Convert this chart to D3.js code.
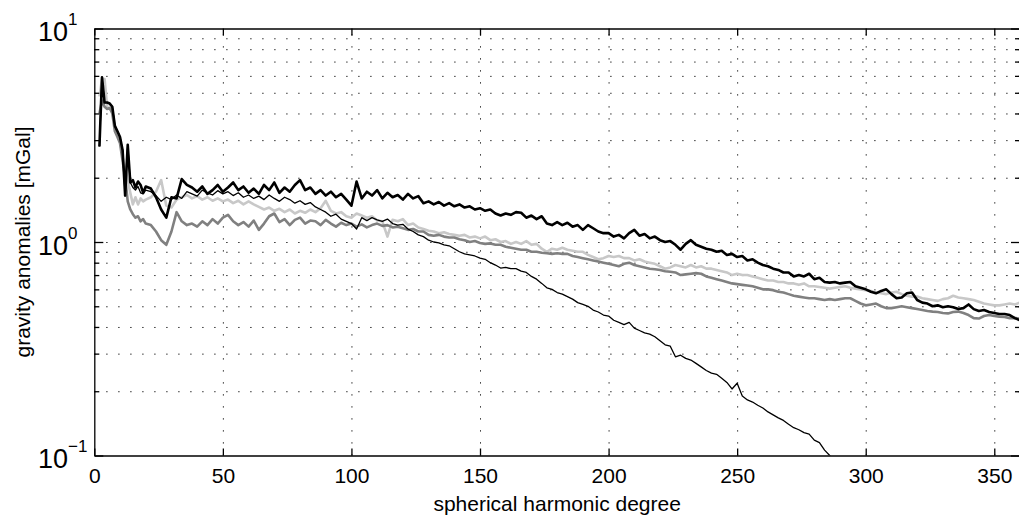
<!DOCTYPE html>
<html lang="en">
<head>
<meta charset="utf-8" />
<title>Gravity anomalies per degree</title>
<script src="https://d3js.org/d3.v7.min.js"></script>
<style>
  body { margin: 0; background: #fff; }
  svg { display: block; font-family: "Liberation Sans", Arial, Helvetica, sans-serif; }
  .grid line { stroke: #000; stroke-width: 1; stroke-dasharray: 1.2, 10.8; }
  .grid path { display: none; }
  .axis path, .axis line { stroke: #000; stroke-width: 1.3; }
  .axis text { font-size: 21px; fill: #000; }
  .series { fill: none; stroke-linejoin: round; }
</style>
</head>
<body>
<script>
// spherical harmonic degree (1-step at low degree, then 2-step)
const degree = [2, 3, 4, 5, 6, 7, 8, 9, 10, 11, 12, 13, 14, 15, 16, 17, 18, 19, 20,
  22, 24, 26, 28, 30, 32, 34, 36, 38, 40, 42, 44, 46, 48, 50, 52, 54, 56, 58, 60,
  62, 64, 66, 68, 70, 72, 74, 76, 78, 80, 82, 84, 86, 88, 90, 92, 94, 96, 98, 100,
  102, 104, 106, 108, 110, 112, 114, 116, 118, 120, 122, 124, 126, 128, 130, 132, 134, 136, 138, 140,
  142, 144, 146, 148, 150, 152, 154, 156, 158, 160, 162, 164, 166, 168, 170, 172, 174, 176, 178, 180,
  182, 184, 186, 188, 190, 192, 194, 196, 198, 200, 202, 204, 206, 208, 210, 212, 214, 216, 218, 220,
  222, 224, 226, 228, 230, 232, 234, 236, 238, 240, 242, 244, 246, 248, 250, 252, 254, 256, 258, 260,
  262, 264, 266, 268, 270, 272, 274, 276, 278, 280, 282, 284, 286, 288, 290, 292, 294, 296, 298, 300,
  302, 304, 306, 308, 310, 312, 314, 316, 318, 320, 322, 324, 326, 328, 330, 332, 334, 336, 338, 340,
  342, 344, 346, 348, 350, 352, 354, 356, 358, 360];

// gravity anomalies [mGal], one value per degree above
const lightGray = [4.8, 5.8, 5.8, 4.3, 4.2, 4.1, 3.5, 3.2, 3.0, 2.5, 2.2, 1.95, 1.7, 1.5, 1.62, 1.5, 1.6, 1.55, 1.58,
  1.62, 1.72, 1.95, 1.48, 1.45, 1.58, 1.62, 1.66, 1.6, 1.64, 1.58, 1.62, 1.56, 1.6, 1.55, 1.58, 1.52, 1.56, 1.5, 1.55,
  1.5, 1.46, 1.42, 1.45, 1.4, 1.43, 1.38, 1.42, 1.36, 1.4, 1.37, 1.42, 1.38, 1.44, 1.56, 1.4, 1.36, 1.38, 1.32, 1.3,
  1.36, 1.33, 1.3, 1.32, 1.26, 1.25, 1.06, 1.27, 1.25, 1.28, 1.2, 1.22, 1.17, 1.15, 1.13, 1.12, 1.1, 1.11, 1.09, 1.08,
  1.07, 1.08, 1.05, 1.06, 1.04, 1.06, 1.02, 1.03, 1.0, 1.01, 0.98, 1.0, 0.98, 1.01, 0.97, 0.98, 0.93, 0.9, 0.93, 0.92,
  0.94, 0.92, 0.91, 0.9, 0.9, 0.87, 0.85, 0.83, 0.84, 0.86, 0.85, 0.86, 0.84, 0.84, 0.82, 0.83, 0.81, 0.8, 0.79, 0.77,
  0.75, 0.76, 0.78, 0.77, 0.76, 0.78, 0.76, 0.77, 0.75, 0.75, 0.74, 0.73, 0.72, 0.7, 0.71, 0.7, 0.7, 0.69, 0.68, 0.67,
  0.66, 0.66, 0.65, 0.65, 0.64, 0.64, 0.63, 0.64, 0.62, 0.62, 0.615, 0.61, 0.605, 0.61, 0.615, 0.62, 0.61, 0.605, 0.6, 0.595,
  0.59, 0.58, 0.575, 0.57, 0.58, 0.585, 0.57, 0.56, 0.555, 0.555, 0.545, 0.54, 0.535, 0.53, 0.54, 0.545, 0.56, 0.55, 0.545, 0.54,
  0.535, 0.525, 0.515, 0.51, 0.505, 0.505, 0.51, 0.515, 0.51, 0.52];

const midGray = [4.0, 4.6, 4.3, 4.2, 4.25, 4.0, 3.3, 3.1, 2.9, 2.4, 2.0, 1.55, 1.42, 1.35, 1.3, 1.32, 1.25, 1.28, 1.22,
  1.2, 1.12, 1.02, 0.97, 1.12, 1.38, 1.25, 1.2, 1.22, 1.18, 1.25, 1.2, 1.28, 1.22, 1.3, 1.34, 1.25, 1.2, 1.24, 1.18,
  1.26, 1.14, 1.22, 1.32, 1.36, 1.24, 1.28, 1.2, 1.27, 1.3, 1.22, 1.26, 1.25, 1.2, 1.27, 1.22, 1.18, 1.23, 1.2, 1.22,
  1.18, 1.21, 1.17, 1.2, 1.22, 1.19, 1.2, 1.17, 1.18, 1.16, 1.14, 1.15, 1.12, 1.12, 1.08, 1.07, 1.08, 1.06, 1.05, 1.05,
  1.03, 1.02, 1.0, 1.01, 0.99, 0.98, 0.985, 0.97, 0.97, 0.95, 0.94, 0.93, 0.92, 0.92, 0.9, 0.9, 0.89, 0.885, 0.88, 0.885,
  0.88, 0.88, 0.86, 0.85, 0.84, 0.83, 0.82, 0.81, 0.8, 0.79, 0.78, 0.77, 0.79, 0.8, 0.78, 0.77, 0.76, 0.75, 0.745, 0.74,
  0.73, 0.725, 0.72, 0.7, 0.705, 0.71, 0.715, 0.71, 0.69, 0.68, 0.67, 0.66, 0.65, 0.64, 0.635, 0.63, 0.625, 0.62, 0.61, 0.6,
  0.6, 0.595, 0.585, 0.58, 0.57, 0.56, 0.555, 0.55, 0.545, 0.545, 0.54, 0.535, 0.54, 0.535, 0.54, 0.545, 0.545, 0.53, 0.515, 0.505,
  0.51, 0.515, 0.5, 0.49, 0.49, 0.495, 0.5, 0.495, 0.49, 0.485, 0.48, 0.475, 0.472, 0.47, 0.465, 0.463, 0.47, 0.472, 0.465, 0.455,
  0.44, 0.438, 0.45, 0.455, 0.45, 0.447, 0.445, 0.44, 0.44, 0.438];

const thickBlack = [2.8, 5.9, 4.5, 4.5, 4.45, 4.3, 3.5, 3.3, 3.1, 2.7, 1.65, 2.85, 1.9, 1.95, 1.8, 1.92, 1.85, 1.7, 1.82,
  1.78, 1.62, 1.42, 1.3, 1.62, 1.6, 1.97, 1.85, 1.8, 1.72, 1.82, 1.68, 1.75, 1.85, 1.72, 1.8, 1.9, 1.75, 1.82, 1.7,
  1.78, 1.68, 1.85, 1.75, 1.9, 1.7, 1.8, 1.72, 1.85, 1.95, 1.75, 1.8, 1.68, 1.75, 1.65, 1.72, 1.62, 1.68, 1.58, 1.48,
  1.92, 1.6, 1.72, 1.65, 1.75, 1.6, 1.7, 1.62, 1.66, 1.58, 1.68, 1.6, 1.64, 1.52, 1.55, 1.5, 1.54, 1.48, 1.52, 1.47,
  1.5, 1.45, 1.47, 1.42, 1.44, 1.4, 1.42, 1.36, 1.33, 1.36, 1.34, 1.38, 1.37, 1.3, 1.33, 1.28, 1.32, 1.22, 1.2, 1.24,
  1.2, 1.23, 1.18, 1.2, 1.14, 1.2, 1.16, 1.12, 1.1, 1.1, 1.06, 1.08, 1.04, 1.1, 1.14, 1.07, 1.09, 1.04, 1.06, 1.02,
  1.0, 1.01, 0.97, 0.92, 0.98, 1.02, 0.97, 0.95, 0.93, 0.92, 0.9, 0.91, 0.87, 0.88, 0.85, 0.86, 0.82, 0.83, 0.8, 0.78,
  0.77, 0.75, 0.74, 0.72, 0.72, 0.69, 0.7, 0.69, 0.71, 0.67, 0.68, 0.65, 0.645, 0.65, 0.64, 0.645, 0.65, 0.62, 0.61, 0.6,
  0.585, 0.575, 0.59, 0.6, 0.57, 0.545, 0.55, 0.575, 0.58, 0.535, 0.52, 0.515, 0.5, 0.505, 0.495, 0.5, 0.495, 0.485, 0.49, 0.51,
  0.485, 0.475, 0.48, 0.47, 0.465, 0.46, 0.46, 0.455, 0.44, 0.43];

// thin black drops below the axis after degree 290
const thinBlack = [2.8, 5.9, 4.5, 4.5, 4.45, 4.3, 3.5, 3.3, 3.1, 2.7, 1.65, 2.85, 1.9, 1.8, 1.75, 1.82, 1.7, 1.68, 1.75,
  1.72, 1.65, 1.55, 1.62, 1.58, 1.66, 1.6, 1.72, 1.68, 1.64, 1.75, 1.7, 1.66, 1.74, 1.68, 1.72, 1.65, 1.7, 1.62, 1.66,
  1.6, 1.64, 1.58, 1.66, 1.6, 1.55, 1.62, 1.58, 1.52, 1.56, 1.5, 1.53, 1.46, 1.42, 1.38, 1.32, 1.35, 1.28, 1.25, 1.22,
  1.15, 1.3, 1.26, 1.3, 1.27, 1.25, 1.28, 1.22, 1.2, 1.21, 1.15, 1.12, 1.08, 1.06, 1.02, 1.0, 0.99, 0.97, 0.96, 0.93,
  0.9, 0.88, 0.87, 0.86, 0.84, 0.83, 0.8, 0.78, 0.755, 0.76, 0.75, 0.75, 0.73, 0.72, 0.69, 0.67, 0.64, 0.61, 0.6, 0.58,
  0.57, 0.555, 0.54, 0.52, 0.51, 0.5, 0.48, 0.47, 0.455, 0.45, 0.43, 0.42, 0.41, 0.42, 0.395, 0.385, 0.375, 0.37, 0.36, 0.345,
  0.33, 0.325, 0.29, 0.295, 0.285, 0.28, 0.27, 0.26, 0.25, 0.243, 0.24, 0.23, 0.22, 0.205, 0.218, 0.19, 0.182, 0.178, 0.172, 0.167,
  0.16, 0.155, 0.15, 0.146, 0.14, 0.135, 0.132, 0.128, 0.126, 0.118, 0.115, 0.106, 0.1, 0.095, 0.09, null, null, null, null, null,
  null, null, null, null, null, null, null, null, null, null, null, null, null, null, null, null, null, null, null, null,
  null, null, null, null, null, null, null, null, null, null];

const xTicks = [0, 50, 100, 150, 200, 250, 300, 350];
const yMajor = [0.1, 1, 10];
const yMinor = [0.2, 0.3, 0.4, 0.5, 0.6, 0.7, 0.8, 0.9, 2, 3, 4, 5, 6, 7, 8, 9];
const yExponents = ["-1", "0", "1"];

const W = 1019, H = 521;
const plotLeft = 94.3, plotRight = 1020, plotTop = 28.5, plotBottom = 455.5;

const svg = d3.select("body").append("svg").attr("width", W).attr("height", H);

const x = d3.scaleLinear().domain([0, 360]).range([plotLeft, plotRight]);
const y = d3.scaleLog().domain([0.1, 10]).range([plotBottom, plotTop]);

// dotted grid
svg.append("g").attr("class", "grid")
  .attr("transform", `translate(0,${plotBottom})`)
  .call(d3.axisBottom(x).tickValues(xTicks.slice(1)).tickSize(-(plotBottom - plotTop)).tickFormat(""));
svg.append("g").attr("class", "grid")
  .attr("transform", `translate(${plotLeft},0)`)
  .call(d3.axisLeft(y).tickValues(yMinor.concat([1])).tickSize(-(plotRight - plotLeft)).tickFormat(""));

// series, clipped to the axes box
svg.append("clipPath").attr("id", "clip")
  .append("rect").attr("x", plotLeft).attr("y", plotTop)
  .attr("width", plotRight - plotLeft).attr("height", plotBottom - plotTop);

const series = [
  { values: lightGray, color: "#c8c8c8", width: 2.6 },
  { values: midGray, color: "#808080", width: 2.6 },
  { values: thickBlack, color: "#000", width: 2.6 },
  { values: thinBlack, color: "#000", width: 1.3 }
];

const line = d3.line()
  .defined((d) => d[1] != null)
  .x((d) => x(d[0]))
  .y((d) => y(d[1]));

svg.append("g").attr("clip-path", "url(#clip)")
  .selectAll("path")
  .data(series)
  .join("path")
  .attr("class", "series")
  .attr("stroke", (d) => d.color)
  .attr("stroke-width", (d) => d.width)
  .attr("d", (d) => line(degree.map((g, i) => [g, d.values[i]])));

// axes with inward ticks
svg.append("g").attr("class", "axis")
  .attr("transform", `translate(0,${plotBottom})`)
  .call(d3.axisBottom(x).tickValues(xTicks).tickSizeInner(-7).tickSizeOuter(0).tickPadding(13).tickFormat(d3.format("d")));
svg.append("g").attr("class", "axis")
  .attr("transform", `translate(0,${plotTop})`)
  .call(d3.axisTop(x).tickValues(xTicks).tickSizeInner(-7).tickSizeOuter(0).tickFormat(""));

svg.append("g").attr("class", "axis")
  .attr("transform", `translate(${plotLeft},0)`)
  .call(d3.axisLeft(y).tickValues(yMajor).tickSizeInner(-9).tickSizeOuter(0).tickFormat(""));
svg.append("g").attr("class", "axis")
  .attr("transform", `translate(${plotLeft},0)`)
  .call(d3.axisLeft(y).tickValues(yMinor).tickSizeInner(-5).tickSizeOuter(0).tickFormat(""))
  .select(".domain").remove();
svg.append("g").attr("class", "axis")
  .attr("transform", `translate(${plotRight},0)`)
  .call(d3.axisRight(y).tickValues(yMajor).tickSizeInner(-9).tickSizeOuter(0).tickFormat(""));
svg.append("g").attr("class", "axis")
  .attr("transform", `translate(${plotRight},0)`)
  .call(d3.axisRight(y).tickValues(yMinor).tickSizeInner(-5).tickSizeOuter(0).tickFormat(""))
  .select(".domain").remove();

// y tick labels: "10" with a superscript exponent, the base right edge at x = 68
const ylab = svg.append("g").attr("class", "axis");
yMajor.forEach((v, i) => {
  const t = ylab.append("text")
    .attr("y", y(v) + 12.5);
  t.append("tspan").style("font-size", "27px").text("10");
  t.append("tspan").attr("dy", -16).style("font-size", "17px").text(yExponents[i].replace("-", "\u2212"));
  const w = t.select("tspan").node().getComputedTextLength();
  t.attr("x", 68 - w);
});

// axis titles
svg.append("text")
  .attr("x", (plotLeft + plotRight) / 2)
  .attr("y", 511)
  .attr("text-anchor", "middle")
  .style("font-size", "21px")
  .text("spherical harmonic degree");

svg.append("text")
  .attr("transform", `translate(30,${(plotTop + plotBottom) / 2}) rotate(-90)`)
  .attr("text-anchor", "middle")
  .style("font-size", "21px")
  .text("gravity anomalies [mGal]");
</script>
</body>
</html>
